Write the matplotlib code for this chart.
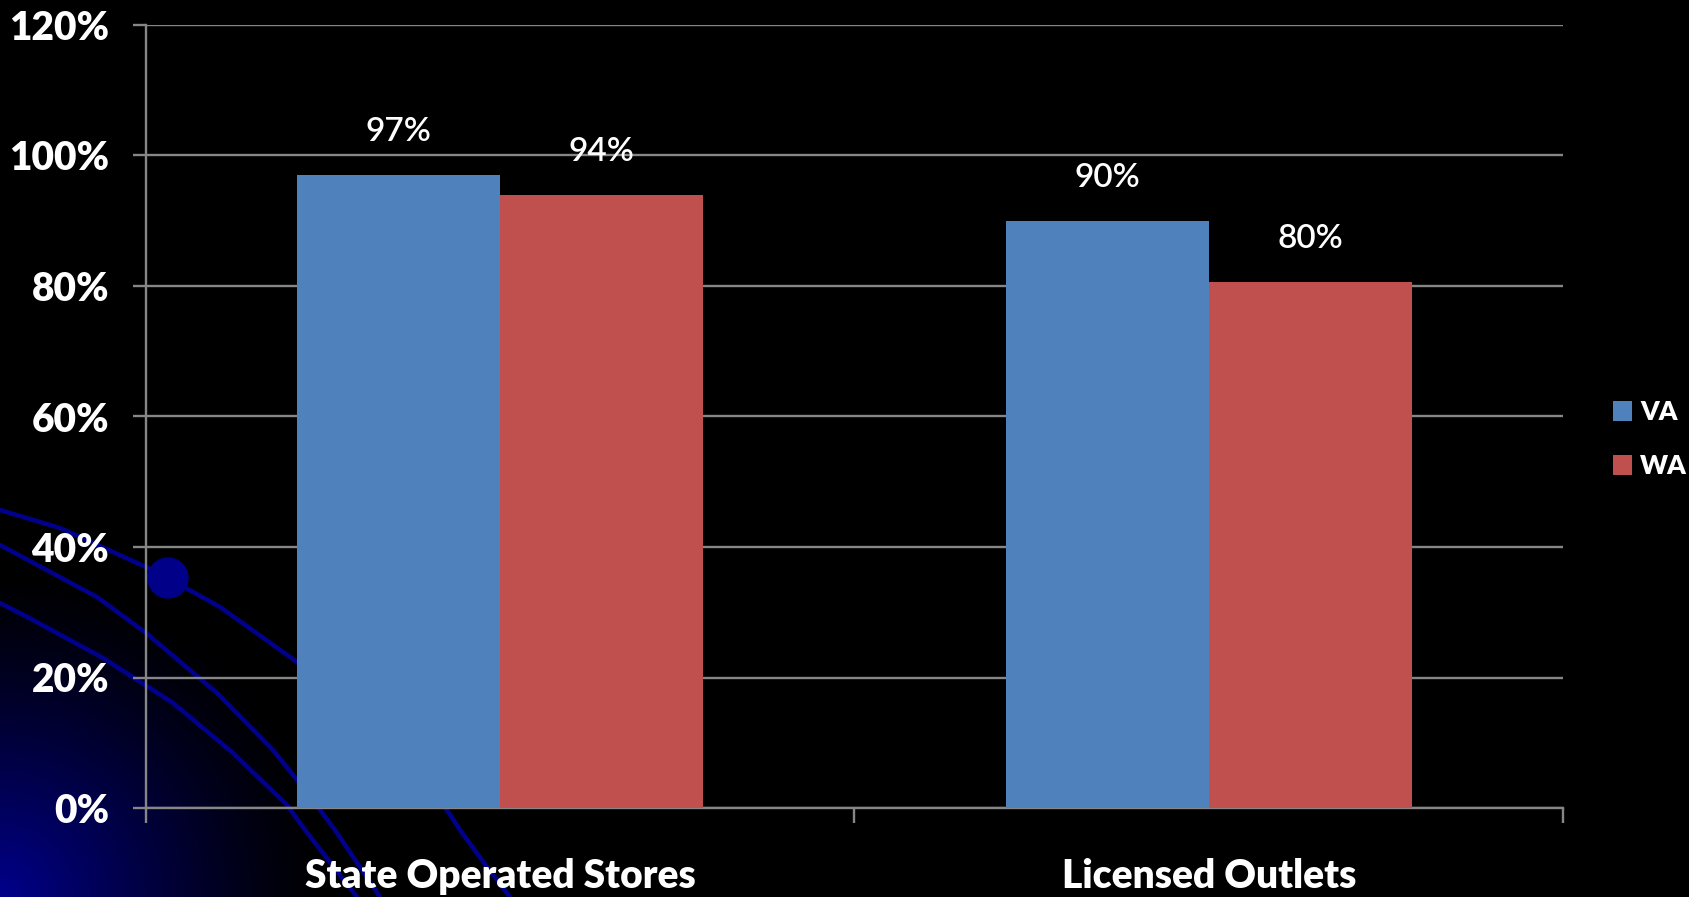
import numpy as np
import matplotlib
matplotlib.use('Agg')
import matplotlib.pyplot as plt

# chart data
categories = ['State Operated Stores', 'Licensed Outlets']
series_names = ['VA', 'WA']
va_values = [97.0, 90.0]
wa_values = [94.0, 80.6]
va_labels = ['97%', '90%']
wa_labels = ['94%', '80%']
y_ticks = [0, 20, 40, 60, 80, 100, 120]

# decorative slide background curves (figure pixels, origin top-left)
curve_a = [(0, 510), (60, 528), (146, 567), (168, 578), (220, 607), (297, 662),
           (380, 735), (447, 810), (460, 830), (487, 867), (510, 897)]
curve_b = [(0, 545), (97, 597), (146, 633), (217, 693), (273, 750), (297, 780),
           (320, 810), (335, 830), (380, 897)]
curve_c = [(0, 603), (33, 620), (103, 658), (173, 703), (233, 753), (287, 805),
           (305, 830), (357, 897)]

BLUE = '#4F81BD'
RED = '#C0504D'
GRID = '#868686'
W, H = 1690, 897

plt.rcParams['font.family'] = ['Lato', 'DejaVu Sans']

fig = plt.figure(figsize=(W / 100, H / 100), dpi=100, facecolor='black')

# background layer
bg = fig.add_axes([0, 0, 1, 1], zorder=0)
bg.set_xlim(0, W)
bg.set_ylim(H, 0)
bg.axis('off')
yy, xx = np.mgrid[0:H, 0:W]
d = np.hypot(xx, H - yy)
glow = np.clip(1 - d / 330.0, 0, 1) ** 1.3
img = np.zeros((H, W, 3))
img[..., 2] = glow * 0.55
bg.imshow(img, extent=(0, W, H, 0), interpolation='bilinear', zorder=0)
for c in (curve_a, curve_b, curve_c):
    px, py = zip(*c)
    bg.plot(px, py, color='#00008C', lw=3.2, solid_capstyle='round', zorder=1)
bg.add_patch(plt.Circle((168, 578), 20, color='#000088', zorder=2))

# main chart
ax = fig.add_axes([146 / W, (H - 808) / H, 1417 / W, 783 / H], zorder=1)
ax.set_facecolor('none')

x = np.arange(len(categories))
bw = 0.2866
b1 = ax.bar(x - bw / 2, va_values, bw, color=BLUE, label=series_names[0], zorder=3)
b2 = ax.bar(x + bw / 2, wa_values, bw, color=RED, label=series_names[1], zorder=3)

for bars, labs in ((b1, va_labels), (b2, wa_labels)):
    for rect, lab in zip(bars, labs):
        ax.annotate(lab, (rect.get_x() + rect.get_width() / 2, rect.get_height()),
                    xytext=(0, 31), textcoords='offset points', ha='center', va='center',
                    color='white', fontsize=24, fontweight='semibold')

ax.set_xlim(-0.5, 1.5)
ax.set_ylim(0, 120)
ax.set_yticks(y_ticks)
ax.set_yticklabels([f'{t}%' for t in y_ticks])
ax.yaxis.grid(True, color=GRID, lw=1.7, zorder=1)
ax.set_axisbelow(True)

ax.set_xticks([-0.5, 0.5, 1.5])
ax.set_xticklabels([])
ax.set_xticks(x, minor=True)
ax.set_xticklabels(categories, minor=True)
ax.tick_params(axis='x', which='major', length=11, width=1.7, color=GRID, direction='out')
ax.tick_params(axis='x', which='minor', length=0, pad=36, labelsize=28, labelcolor='white')
ax.tick_params(axis='y', length=9.5, width=1.7, color=GRID, pad=17,
               labelsize=28, labelcolor='white')
for lab in ax.get_xticklabels(minor=True) + ax.get_yticklabels():
    lab.set_fontweight('heavy')

for s in ('top', 'right'):
    ax.spines[s].set_visible(False)
for s in ('left', 'bottom'):
    ax.spines[s].set_color(GRID)
    ax.spines[s].set_linewidth(1.7)

leg = ax.legend(loc='center left', bbox_to_anchor=(1602 / W, 458 / H),
                bbox_transform=fig.transFigure, frameon=False, fontsize=19,
                handlelength=0.75, handleheight=0.8, handletextpad=0.3,
                labelspacing=1.15, borderaxespad=0)
for t in leg.get_texts():
    t.set_color('white')
    t.set_fontweight('heavy')

fig.savefig('out.png', dpi=100, facecolor='black')
